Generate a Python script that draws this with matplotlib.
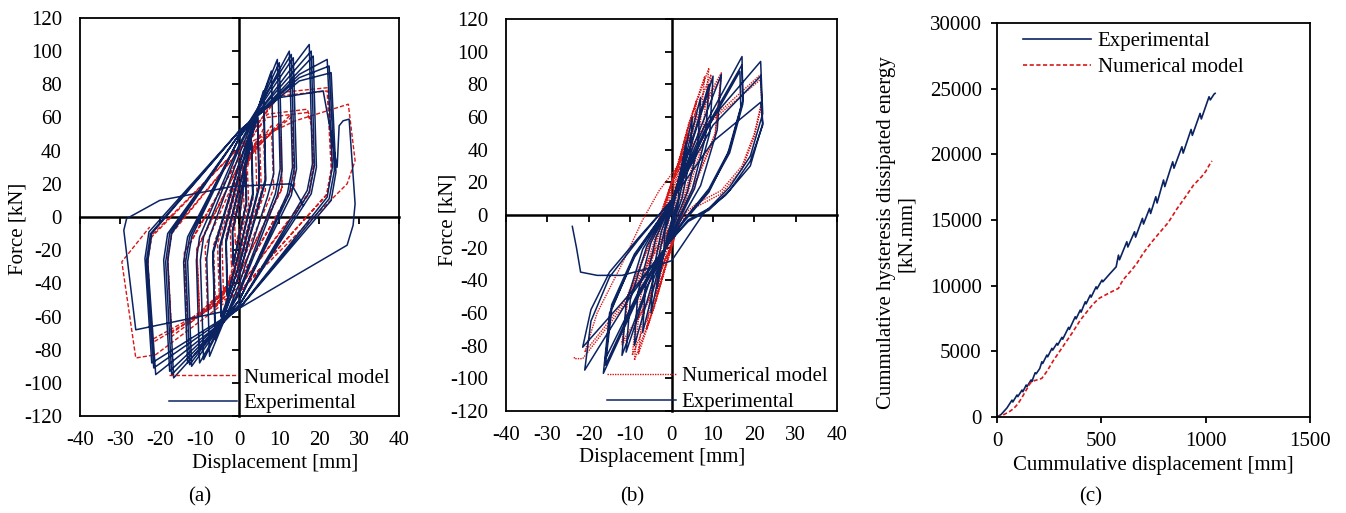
import numpy as np
import matplotlib
matplotlib.use("Agg")
from matplotlib import pyplot as plt

plt.rcParams['font.family'] = ['Liberation Serif', 'DejaVu Serif']
plt.rcParams['font.size'] = 15
plt.rcParams['axes.unicode_minus'] = False

BLUE = '#0b2361'
RED = '#d81818'

# --- (a) hysteresis, displacement [mm] / force [kN] ---
exp_a = [
    (0, 0), (1.5, 26), (1.7, 8), (0, -10), (-1.5, -28), (-1.7, -8), (0, 10),
    (1.6, 27), (1.8, 9), (0, -11), (-1.6, -29), (-1.8, -9), (0, 11),
    (3, 46), (3.3, 14), (0, -20), (-3, -48), (-3.3, -15), (0, 18),
    (3.1, 45), (3.4, 13), (0, -21), (-3.1, -47), (-3.4, -14), (0, 19),
    (4.5, 62), (4.9, 19), (0, -28), (-4.5, -62), (-4.9, -19), (0, 26),
    (4.6, 60), (5, 18), (0, -29), (-4.6, -60), (-5, -18), (0, 27),
    (6, 76), (6.5, 23), (0, -34), (-6, -74), (-6.6, -22), (0, 32),
    (6.1, 74), (6.6, 22), (0, -35), (-6.1, -72), (-6.7, -21), (0, 33),
    (8, 88), (8.6, 26), (7, 12), (0, -40), (-7.5, -84), (-8.2, -25), (-7.5, -12), (0, 38),
    (9.5, 95), (10.2, 29), (9, 14), (0, -44), (-9, -86), (-9.8, -26), (-9, -12), (0, 42),
    (10, 93), (10.7, 28), (9.5, 13), (0, -46), (-10, -88), (-10.8, -26), (-10, -12), (0, 44),
    (12.5, 100), (13.3, 30), (12, 14), (0, -50), (-12, -90), (-13, -27), (-12, -12), (0, 48),
    (13, 98), (13.8, 30), (12.5, 14), (0, -50), (-12.5, -89), (-13.5, -27), (-12.5, -12), (0, 48),
    (13.5, 96), (14.3, 29), (13, 13), (0, -50), (-13, -88), (-14, -27), (-13, -12), (0, 48),
    (17.5, 104), (18.3, 32), (17, 16), (0, -53), (-16.5, -97), (-18, -27), (-17, -10), (0, 50),
    (18, 100), (18.8, 31), (17.5, 15), (0, -53), (-17, -95), (-18.5, -27), (-17.5, -10), (0, 50),
    (18.5, 97), (19.3, 30), (18, 14), (0, -53), (-17.5, -93), (-19, -26), (-18, -10), (0, 50),
    (15, 86), (22, 95), (23.3, 30), (22, 12), (0, -55), (-21, -95), (-23, -27), (-22, -10), (0, 52),
    (15, 84), (22.5, 91), (23.8, 28), (22.5, 11), (0, -55), (-21.5, -91), (-23.3, -26), (-22.3, -10), (0, 52),
    (15, 82), (23, 87), (24.2, 27), (23, 10), (0, -55), (-22, -88), (-23.7, -25), (-22.7, -9), (0, 52),
    (10, 72), (21, 76), (24.5, 30), (25, 55), (26, 58), (27.5, 59), (29, 8), (28.5, -5), (27, -17),
    (0, -55), (-26, -68), (-29, -8), (-28.3, -1), (-20, 10), (-1.5, 18.5), (13, 20), (16, 7),
]
num_a = [
    (0, 0), (1, 15), (1.2, 4), (0, -8), (-1, -17), (-1.2, -5), (0, 8),
    (2, 28), (2.3, 8), (0, -14), (-2, -30), (-2.3, -9), (0, 14),
    (3, 38), (3.4, 11), (0, -19), (-3, -40), (-3.4, -12), (0, 19),
    (4, 45), (4.4, 13), (0, -23), (-4, -47), (-4.4, -14), (0, 22),
    (5, 50), (5.5, 15), (0, -26), (-5, -52), (-5.5, -16), (0, 25),
    (6, 53), (6.5, 16), (0, -28), (-6, -55), (-6.5, -17), (0, 27),
    (8, 55), (8.6, 17), (0, -31), (-8, -57), (-8.6, -18), (0, 29),
    (10, 57), (10.7, 18), (0, -34), (-10, -60), (-10.7, -20), (0, 32),
    (10, 55), (10.7, 17), (0, -34), (-10, -58), (-10.7, -19), (0, 32),
    (13, 62), (13.8, 20), (0, -38), (-13, -65), (-13.8, -22), (0, 36),
    (13, 60), (13.8, 19), (0, -38), (-13, -63), (-13.8, -21), (0, 36),
    (7, 62), (17, 65), (18, 58), (18.6, 32), (17.5, 15), (0, -42), (-17, -72), (-18, -25), (-17, -10), (0, 40),
    (7, 60), (17, 63), (18, 56), (18.6, 30), (17.5, 14), (0, -42), (-17, -70), (-18, -24), (-17, -9), (0, 40),
    (10, 75), (22.3, 78), (23.3, 30), (22, 14), (0, -45), (-22, -76), (-23, -26), (-22, -12), (0, 42),
    (10, 73), (22, 76), (23, 29), (21.8, 13), (0, -45), (-22, -74), (-23, -25), (-22, -11), (0, 42),
    (14, 58), (27.3, 68), (29, 34), (27, 20), (0, -45), (-21, -83), (-26, -85),
    (-29.5, -27), (-22.5, -6),
]

# --- (b) hysteresis ---
exp_b = [
    (0, 0), (1, 12), (2, 25), (1.6, 10), (0, -3), (-1, -12), (-2, -25), (-1.6, -10), (0, 3),
    (1.8, 22), (3.5, 45), (3, 24), (1.5, 6), (0, -5), (-1.8, -22), (-3.5, -45), (-3, -24), (-1.5, -6), (0, 5),
    (2.5, 30), (5, 60), (4.4, 34), (2.5, 10), (0, -7), (-2.5, -30), (-5, -60), (-4.4, -34), (-2.5, -10), (0, 7),
    (3.5, 37), (7, 72), (6.3, 42), (3.8, 14), (0, -9), (-3.5, -36), (-7, -72), (-6.3, -42), (-3.8, -14), (0, 8),
    (4.5, 42), (9, 80), (8.2, 48), (5, 16), (0, -11), (-4.5, -40), (-9, -80), (-8.2, -48), (-5, -17), (0, 8),
    (5, 45), (10, 85), (9.2, 50), (5.5, 16), (0, -12), (-5.5, -42), (-11, -84), (-10, -52), (-6, -19), (0, 8),
    (6, 47), (12, 86), (11, 52), (7, 18), (0, -13), (-6, -44), (-12, -86), (-11, -54), (-7, -21), (0, 9),
    (8, 55), (17, 97), (17.2, 70), (14, 40), (9, 16), (3, -3), (0, -14), (-8, -50), (-16.5, -97),
    (-15, -60), (-9, -26), (0, 8),
    (8, 52), (17, 92), (17.2, 68), (14, 38), (9, 15), (3, -3), (0, -14), (-8, -48), (-16, -92),
    (-14.5, -58), (-9, -25), (0, 8),
    (8, 50), (16.5, 88), (16.7, 66), (13.5, 37), (9, 14), (3, -4), (0, -14), (-8, -47), (-16, -88),
    (-14.5, -55), (-9, -24), (0, 8),
    (10, 60), (21.5, 94), (22, 62), (19, 36), (14, 17), (9, 4), (4, -3), (0, -15), (-10, -50), (-21, -95),
    (-19.5, -65), (-15, -38), (-8, -15), (0, 9),
    (10, 55), (21.5, 85), (22, 55), (19, 33), (14, 15), (9, 3), (4, -4), (0, -15), (-10, -48), (-21.5, -81),
    (-19.5, -58), (-15, -35), (-8, -14), (0, 9),
    (10, 45), (21.5, 69), (22, 56), (19, 30), (13, 12), (8, 2), (0, -28), (-6, -33), (-12, -37),
    (-18, -37), (-22, -35), (-23, -20), (-24, -7),
]
num_b = [
    (0, 0), (1, 15), (2, 25), (1, 8), (0, -5), (-1, -15), (-2, -25), (-1, -8), (0, 5),
    (2, 30), (4, 50), (2.5, 20), (0, -10), (-2, -30), (-4, -50), (-2.5, -20), (0, 10),
    (3, 45), (6, 70), (4.5, 35), (0, -15), (-3, -45), (-6, -70), (-4.5, -35), (0, 15),
    (4, 55), (8, 85), (6.5, 45), (0, -18), (-4, -55), (-8, -85), (-6.5, -45), (0, 18),
    (4.5, 58), (9, 90), (7.5, 50), (0, -20), (-4.5, -58), (-9, -89), (-7.5, -50), (0, 20),
    (5, 58), (9.5, 86), (8, 48), (0, -20), (-5, -58), (-9.5, -86), (-8, -48), (0, 20),
    (6, 60), (12, 87), (10.5, 50), (4, 10), (0, -18), (-6, -55), (-12, -80), (-10.5, -50), (-4, -10), (0, 20),
    (6, 58), (12, 85), (10.5, 48), (4, 9), (0, -18), (-6, -54), (-12, -78), (-10.5, -48), (-4, -9), (0, 20),
    (8, 55), (21.5, 86), (21.8, 70), (20, 50), (17, 30), (12, 15), (6, 7), (0, -6), (-5, -25), (-12, -55),
    (-21, -84), (-18, -60), (-12, -30), (-7, -3), (-3, 15), (0, 25),
    (8, 54), (21.5, 83), (21.8, 68), (20, 48), (17, 28), (12, 13), (6, 5), (0, -8), (-5, -27), (-12, -57),
    (-21.5, -88), (-23.5, -88), (-23.5, -87),
]

# --- (c) cumulative energy ---
exp_c_disp = [0, 20, 48, 72, 76, 96, 100, 120, 124, 140, 144, 163, 167, 183, 188, 205, 215, 219, 239, 243,
              263, 267, 287, 291, 311, 315, 343, 347, 375, 379, 399, 403, 423, 427, 447, 451, 475, 479,
              503, 507, 540, 571, 582, 587, 622, 627, 659, 664, 697, 702, 731, 736, 761, 767, 798, 804,
              842, 848, 886, 892, 930, 936, 973, 979, 1016, 1022, 1040, 1045]
exp_c_energy = [0, 200, 700, 1290, 1150, 1680, 1560, 2060, 1930, 2440, 2320, 2820, 2700, 3380, 3300, 3700,
                4210, 4080, 4720, 4590, 5230, 5100, 5610, 5480, 6070, 5930, 6830, 6680, 7640, 7480, 8150,
                7990, 8780, 8620, 9290, 9130, 9920, 9760, 10430, 10300, 10900, 11440, 12330, 11980, 13350,
                12950, 14110, 13700, 15130, 14700, 15890, 15500, 16780, 16300, 18050, 17550, 19440, 18950,
                20580, 20100, 21900, 21450, 23120, 22700, 24390, 24150, 24590, 24650]
num_c_disp = [0, 20, 40, 60, 80, 100, 120, 140, 160, 180, 200, 215, 240, 270, 300, 330, 360, 400, 430, 460,
              490, 520, 550, 582, 595, 606, 640, 670, 702, 740, 782, 820, 862, 900, 941, 980, 1000, 1021, 1030]
num_c_energy = [0, 80, 250, 420, 650, 1000, 1500, 2050, 2600, 2780, 2860, 2950, 3500, 4300, 5000, 5700, 6400,
                7400, 8000, 8600, 9050, 9300, 9550, 9800, 10200, 10480, 11100, 11700, 12500, 13300, 14100,
                14800, 15850, 16700, 17650, 18300, 18700, 19300, 19500]


def hysteresis_axes(ax):
    ax.set_xlim(-40, 40)
    ax.set_ylim(-120, 120)
    ax.set_xticks(np.arange(-40, 41, 10))
    ax.set_yticks(np.arange(-120, 121, 20))
    ax.tick_params(length=0)
    ax.tick_params(axis='y', pad=13)
    ax.tick_params(axis='x', pad=11)
    for s in ax.spines.values():
        s.set_linewidth(1.3)
    # axis lines through the origin with their own tick marks
    secx = ax.secondary_xaxis(0.5)
    secx.set_alignment('bottom')
    secx.set_xticks(np.arange(-40, 41, 10))
    secx.tick_params(direction='out', length=5, width=1.3, labelbottom=False, labeltop=False)
    secx.spines['bottom'].set_linewidth(1.8)
    secy = ax.secondary_yaxis(0.5)
    secy.set_alignment('left')
    secy.set_yticks(np.arange(-120, 121, 20))
    secy.tick_params(direction='out', length=5, width=1.3, labelleft=False, labelright=False)
    secy.spines['left'].set_linewidth(1.8)


fig = plt.figure(figsize=(13.46, 5.13), dpi=100)
ax1 = fig.add_axes([0.0594, 0.189, 0.237, 0.776])
ax2 = fig.add_axes([0.376, 0.199, 0.246, 0.764])
ax3 = fig.add_axes([0.7407, 0.187, 0.2326, 0.768])

leg_kw = dict(frameon=False, handlelength=3.3, handletextpad=0.3, labelspacing=0.3, borderpad=0.2)

# (a)
hysteresis_axes(ax1)
d, f = zip(*num_a)
ax1.plot(d, f, color=RED, lw=1.0, dashes=(3, 1.5), label='Numerical model')
d, f = zip(*exp_a)
ax1.plot(d, f, color=BLUE, lw=1.1, label='Experimental')
ax1.set_xlabel('Displacement [mm]', va='center')
ax1.xaxis.set_label_coords(0.611, -0.118)
ax1.set_ylabel('Force [kN]', va='center')
ax1.yaxis.set_label_coords(-0.194, 0.47)
ax1.legend(loc='lower left', bbox_to_anchor=(0.232, -0.03), **leg_kw)

# (b)
hysteresis_axes(ax2)
d, f = zip(*num_b)
ax2.plot(d, f, color=RED, lw=1.0, dashes=(1, 0.8), label='Numerical model')
d, f = zip(*exp_b)
ax2.plot(d, f, color=BLUE, lw=1.1, label='Experimental')
ax2.set_xlabel('Displacement [mm]', va='center')
ax2.xaxis.set_label_coords(0.471, -0.12)
ax2.set_ylabel('Force [kN]', va='center')
ax2.yaxis.set_label_coords(-0.175, 0.487)
ax2.legend(loc='lower left', bbox_to_anchor=(0.26, -0.04), **leg_kw)

# (c)
ax3.plot(exp_c_disp, exp_c_energy, color=BLUE, lw=1.2, label='Experimental')
ax3.plot(num_c_disp, num_c_energy, color=RED, lw=1.2, dashes=(2.5, 1.5), label='Numerical model')
ax3.set_xlim(0, 1500)
ax3.set_ylim(0, 30000)
ax3.set_xticks([0, 500, 1000, 1500])
ax3.set_yticks(np.arange(0, 30001, 5000))
ax3.tick_params(direction='out', length=4, width=1.3, pad=7)
for s in ax3.spines.values():
    s.set_linewidth(1.3)
ax3.set_xlabel('Cummulative displacement [mm]', va='center')
ax3.xaxis.set_label_coords(0.5, -0.122)
ax3.set_ylabel('Cummulative hysteresis dissipated energy\n[kN.mm]', va='center', linespacing=1.1)
ax3.yaxis.set_label_coords(-0.321, 0.467)
ax3.legend(loc='upper left', bbox_to_anchor=(0.035, 1.015), **leg_kw)

fig.text(200 / 1346, 1 - 497 / 513, '(a)', ha='center', va='center')
fig.text(632 / 1346, 1 - 497 / 513, '(b)', ha='center', va='center')
fig.text(1091 / 1346, 1 - 497 / 513, '(c)', ha='center', va='center')

fig.savefig('out.png', dpi=100)
